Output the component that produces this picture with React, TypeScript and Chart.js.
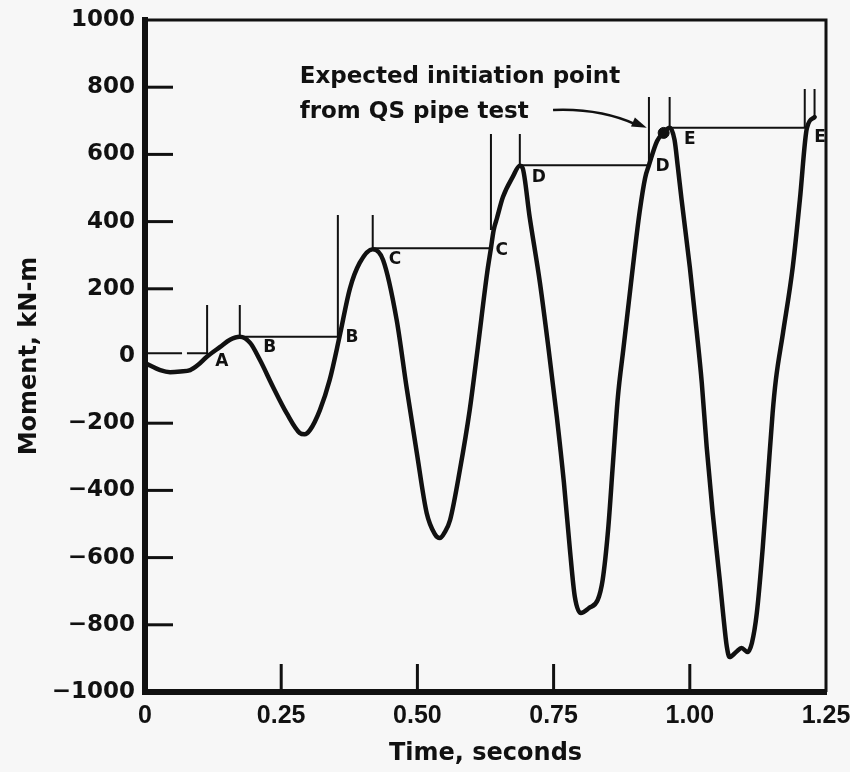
import React, { useEffect, useRef } from 'react';
import { Chart, registerables } from 'chart.js';

Chart.register(...registerables);

// Measured moment trace (time in s, moment in kN-m)
const timeS = [
  0, 0.028, 0.046, 0.065, 0.083, 0.097, 0.113, 0.138, 0.156, 0.174,
  0.193, 0.211, 0.235, 0.26, 0.284, 0.293, 0.303, 0.321, 0.339, 0.357,
  0.376, 0.394, 0.418, 0.437, 0.462, 0.48, 0.499, 0.517, 0.532, 0.541,
  0.55, 0.56, 0.578, 0.596, 0.611, 0.628, 0.635, 0.64, 0.646, 0.657,
  0.675, 0.688, 0.693, 0.706, 0.725, 0.741, 0.756, 0.769, 0.78, 0.789,
  0.8, 0.815, 0.831, 0.84, 0.85, 0.859, 0.868, 0.878, 0.888, 0.898,
  0.908, 0.918, 0.925, 0.94, 0.952, 0.963, 0.972, 0.978, 0.985, 1.0,
  1.013, 1.022, 1.031, 1.042, 1.055, 1.061, 1.068, 1.073, 1.085, 1.095,
  1.106, 1.114, 1.123, 1.134, 1.143, 1.152, 1.158, 1.171, 1.189, 1.202,
  1.215, 1.229,
];
const momentKNm = [
  -21, -42, -48, -46, -42, -27, -3, 27, 48, 57,
  39, -12, -92, -170, -229, -233, -220, -161, -71, 57,
  200, 277, 318, 286, 107, -92, -289, -467, -530, -542,
  -525, -488, -339, -161, 27, 247, 321, 375, 410, 473,
  533, 566, 560, 414, 217, 18, -182, -378, -577, -717,
  -765, -750, -726, -667, -518, -318, -122, 20, 160, 300,
  430, 530, 568, 640, 664, 679, 643, 563, 464, 265,
  68, -80, -271, -467, -667, -765, -866, -896, -881, -869,
  -881, -854, -765, -568, -369, -170, -71, 68, 265, 464,
  679, 711,
];

// Axis ticks
const xTickValues = [0, 0.25, 0.5, 0.75, 1.0, 1.25];
const xTickLabels = ['0', '0.25', '0.50', '0.75', '1.00', '1.25'];
const yTickValues = [-1000, -800, -600, -400, -200, 0, 200, 400, 600, 800, 1000];
const yTickLabels = ['\u22121000', '\u2212800', '\u2212600', '\u2212400', '\u2212200', '0', '200', '400', '600', '800', '1000'];
const innerTickX = [0.25, 0.5, 0.75, 1.0];
const innerTickY = [-800, -600, -400, -200, 200, 400, 600, 800];

// Construction lines (pairs of [time, moment])
const markerLines = [
  [[0, 8], [0.068, 8]],
  [[0.077, 8], [0.114, 8]],
  [[0.114, 152], [0.114, 5]],
  [[0.174, 152], [0.174, 57]],
  [[0.174, 57], [0.356, 57]],
  [[0.354, 420], [0.354, 57]],
  [[0.418, 420], [0.418, 318]],
  [[0.418, 321], [0.635, 321]],
  [[0.635, 661], [0.635, 375]],
  [[0.688, 661], [0.688, 566]],
  [[0.688, 568], [0.925, 568]],
  [[0.925, 771], [0.925, 568]],
  [[0.963, 771], [0.963, 679]],
  [[0.963, 679], [1.215, 679]],
  [[1.211, 795], [1.211, 679]],
  [[1.229, 795], [1.229, 711]],
];

// Letter labels
const pointLetters = ['A', 'B', 'B', 'C', 'C', 'D', 'D', 'E', 'E'];
const letterT = [0.141, 0.229, 0.38, 0.459, 0.655, 0.723, 0.95, 1.0, 1.239];
const letterM = [-18, 24, 54, 286, 315, 530, 563, 643, 649];

// Annotation
const annotationLines = ['Expected initiation point', 'from QS pipe test'];
const annotationT = 0.284;
const annotationM = [812, 708];
const arrowStart = [0.749, 732];
const arrowControl = [0.835, 738];
const arrowEnd = [0.921, 679];
const initiationPoint = [0.952, 664];

const FONT = "'DejaVu Sans', sans-serif";
const XFONT = "'Liberation Sans', Arial, sans-serif";
const INK = '#111111';

export default function App() {
  const ref = useRef<HTMLCanvasElement | null>(null);

  useEffect(() => {
    if (!ref.current) return;

    const mainData = timeS.map((t, i) => ({ x: t, y: momentKNm[i] }));
    const markerData: any[] = [];
    markerLines.forEach((seg, i) => {
      if (i > 0) markerData.push({ x: seg[0][0], y: null });
      markerData.push({ x: seg[0][0], y: seg[0][1] });
      markerData.push({ x: seg[1][0], y: seg[1][1] });
    });

    const decorPlugin = {
      id: 'decor',
      beforeDraw(chart: any) {
        const { ctx, width, height } = chart;
        ctx.save();
        ctx.fillStyle = '#f7f7f7';
        ctx.fillRect(0, 0, width, height);
        ctx.restore();
      },
      afterDraw(chart: any) {
        const { ctx, chartArea } = chart;
        const xs = chart.scales.x;
        const ys = chart.scales.y;
        ctx.save();
        ctx.strokeStyle = INK;
        ctx.fillStyle = INK;
        // top & right frame
        ctx.lineWidth = 3;
        ctx.beginPath();
        ctx.moveTo(chartArea.left, chartArea.top);
        ctx.lineTo(chartArea.right, chartArea.top);
        ctx.lineTo(chartArea.right, chartArea.bottom);
        ctx.stroke();
        // inner ticks
        ctx.lineWidth = 3;
        innerTickY.forEach((v) => {
          const y = ys.getPixelForValue(v);
          ctx.beginPath();
          ctx.moveTo(chartArea.left, y);
          ctx.lineTo(chartArea.left + 28, y);
          ctx.stroke();
        });
        innerTickX.forEach((v) => {
          const x = xs.getPixelForValue(v);
          ctx.beginPath();
          ctx.moveTo(x, chartArea.bottom);
          ctx.lineTo(x, chartArea.bottom - 28);
          ctx.stroke();
        });
        // letters
        ctx.font = `bold 17px ${FONT}`;
        ctx.textAlign = 'center';
        ctx.textBaseline = 'middle';
        pointLetters.forEach((l, i) => {
          ctx.fillText(l, xs.getPixelForValue(letterT[i]), ys.getPixelForValue(letterM[i]));
        });
        // annotation text
        ctx.font = `bold 23px ${FONT}`;
        ctx.textAlign = 'left';
        ctx.textBaseline = 'alphabetic';
        annotationLines.forEach((line, i) => {
          ctx.fillText(line, xs.getPixelForValue(annotationT), ys.getPixelForValue(annotationM[i]));
        });
        // arrow
        const x1 = xs.getPixelForValue(arrowStart[0]);
        const y1 = ys.getPixelForValue(arrowStart[1]);
        const cx = xs.getPixelForValue(arrowControl[0]);
        const cy = ys.getPixelForValue(arrowControl[1]);
        const x2 = xs.getPixelForValue(arrowEnd[0]);
        const y2 = ys.getPixelForValue(arrowEnd[1]);
        ctx.lineWidth = 2.5;
        ctx.beginPath();
        ctx.moveTo(x1, y1);
        ctx.quadraticCurveTo(cx, cy, x2 - 10, y2 - 3);
        ctx.stroke();
        const ang = Math.atan2(y2 - cy, x2 - cx);
        ctx.beginPath();
        ctx.moveTo(x2, y2);
        ctx.lineTo(x2 - 15 * Math.cos(ang) + 5 * Math.sin(ang), y2 - 15 * Math.sin(ang) - 5 * Math.cos(ang));
        ctx.lineTo(x2 - 15 * Math.cos(ang) - 5 * Math.sin(ang), y2 - 15 * Math.sin(ang) + 5 * Math.cos(ang));
        ctx.closePath();
        ctx.fill();
        ctx.restore();
      },
    };

    const chart = new Chart(ref.current, {
      type: 'line',
      data: {
        datasets: [
          {
            data: mainData,
            borderColor: INK,
            borderWidth: 4.5,
            pointRadius: 0,
            cubicInterpolationMode: 'monotone',
            borderCapStyle: 'round',
            borderJoinStyle: 'round',
            fill: false,
          },
          {
            data: markerData,
            borderColor: INK,
            borderWidth: 2,
            pointRadius: 0,
            tension: 0,
            spanGaps: false,
            fill: false,
          },
          {
            data: [{ x: initiationPoint[0], y: initiationPoint[1] }],
            showLine: false,
            pointRadius: 5.5,
            pointBackgroundColor: INK,
            pointBorderColor: INK,
          },
        ] as any,
      },
      options: {
        animation: false,
        responsive: false,
        events: [],
        layout: { padding: { left: 0, top: 20, right: 24, bottom: 0 } },
        plugins: { legend: { display: false }, tooltip: { enabled: false } },
        scales: {
          x: {
            type: 'linear',
            min: 0,
            max: 1.25,
            afterBuildTicks: (s: any) => {
              s.ticks = xTickValues.map((v) => ({ value: v }));
            },
            afterFit: (s: any) => {
              s.height = 80;
              s.paddingLeft = 0;
              s.paddingRight = 0;
            },
            ticks: {
              callback: (_v: any, i: number) => xTickLabels[i],
              font: { family: XFONT, size: 25, weight: 'bold' },
              color: INK,
              padding: 9,
              maxRotation: 0,
              autoSkip: false,
            },
            grid: { display: false, drawTicks: false },
            border: { display: true, width: 6, color: INK },
            title: {
              display: true,
              text: 'Time, seconds',
              font: { family: FONT, size: 24, weight: 'bold' },
              color: INK,
              padding: { top: 0, bottom: 4 },
            },
          },
          y: {
            type: 'linear',
            min: -1000,
            max: 1000,
            afterBuildTicks: (s: any) => {
              s.ticks = yTickValues.map((v) => ({ value: v }));
            },
            afterFit: (s: any) => {
              s.width = 145;
              s.paddingTop = 0;
              s.paddingBottom = 0;
            },
            ticks: {
              callback: (_v: any, i: number) => yTickLabels[i],
              font: { family: FONT, size: 23, weight: 'bold' },
              color: INK,
              padding: 10,
              autoSkip: false,
            },
            grid: { display: false, drawTicks: false },
            border: { display: true, width: 6, color: INK },
            title: {
              display: true,
              text: 'Moment, kN-m',
              font: { family: FONT, size: 24, weight: 'bold' },
              color: INK,
              padding: { top: 15, bottom: 0 },
            },
          },
        },
      } as any,
      plugins: [decorPlugin],
    });

    return () => chart.destroy();
  }, []);

  return (
    <div style={{ position: 'absolute', left: 0, top: 0, width: 850, height: 772, background: '#f7f7f7' }}>
      <canvas ref={ref} width={850} height={772} style={{ display: 'block' }} />
    </div>
  );
}
